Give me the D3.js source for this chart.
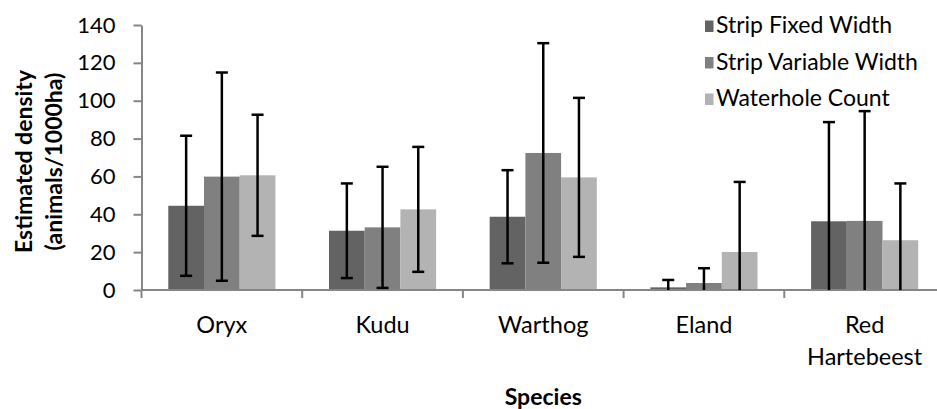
<!DOCTYPE html>
<html><head><meta charset="utf-8">
<script src="https://cdn.jsdelivr.net/npm/d3@7"></script>
<style>body{margin:0;background:#fff}svg{display:block}text{font-family:Lato,"Open Sans",sans-serif;fill:#000}</style>
</head><body>
<svg id="c" width="937" height="409"></svg>
<script>
const categories = ["Oryx","Kudu","Warthog","Eland","Red Hartebeest"];
const seriesNames = ["Strip Fixed Width","Strip Variable Width","Waterhole Count"];
const stripFixed = [44.5, 31.3, 38.7, 1.4, 36.3];
const stripFixedErr = [37, 25, 24.6, 3.9, 52.4];
const stripVariable = [59.9, 33.1, 72.4, 3.7, 36.5];
const stripVariableErr = [55, 32, 58, 7.8, 58];
const waterhole = [60.6, 42.6, 59.5, 20.1, 26.3];
const waterholeErr = [32, 33, 42, 37, 30];
const yTicks = [0,20,40,60,80,100,120,140];
const colors = ["#636363","#808080","#b3b3b3"];

const values = [stripFixed, stripVariable, waterhole];
const errs = [stripFixedErr, stripVariableErr, waterholeErr];

const svg = d3.select("#c");
const x0 = 141.5, x1 = 945, yTop = 25, yBot = 290;
const x = d3.scaleBand().domain(categories).range([x0, x1]).paddingInner(0).paddingOuter(0);
const y = d3.scaleLinear().domain([0,140]).range([yBot, yTop]);
const bw = x.bandwidth();
const barW = bw / 4.5;
const xs = d3.scaleBand().domain(seriesNames).range([(bw-3*barW)/2, (bw+3*barW)/2]).padding(0);

// bars
seriesNames.forEach((s, si) => {
  const g = svg.append("g");
  g.selectAll("rect").data(categories).join("rect")
    .attr("x", (c) => x(c) + xs(s))
    .attr("y", (c,i) => y(values[si][i]))
    .attr("width", xs.bandwidth())
    .attr("height", (c,i) => y(0) - y(values[si][i]))
    .attr("fill", colors[si]);
});

// axes
const ya = svg.append("g").attr("transform", `translate(${x0},0)`)
  .call(d3.axisLeft(y).tickValues(yTicks).tickSize(8).tickSizeOuter(0).tickPadding(18));
ya.select(".domain").attr("stroke","#868686").attr("stroke-width",2);
ya.selectAll(".tick line").attr("stroke","#868686").attr("stroke-width",2);
ya.selectAll(".tick text").style("font-family","Lato").style("font-size","22px").attr("fill","#000");

const xa = svg.append("g").attr("transform", `translate(0,${yBot})`)
  .call(d3.axisBottom(x).tickSize(0).tickFormat(""));
xa.select(".domain").remove();
svg.append("line").attr("x1", x0).attr("x2", 937).attr("y1", yBot).attr("y2", yBot)
  .attr("stroke","#868686").attr("stroke-width",2);
svg.append("g").selectAll("line").data(categories).join("line")
  .attr("x1", c => x(c)).attr("x2", c => x(c)).attr("y1", yBot).attr("y2", yBot+8)
  .attr("stroke","#868686").attr("stroke-width",2);

// error bars
seriesNames.forEach((s, si) => {
  const g = svg.append("g").attr("stroke","#000").attr("stroke-width",2.5);
  categories.forEach((c,i) => {
    const cx = x(c) + xs(s) + xs.bandwidth()/2;
    const v = values[si][i], e = errs[si][i];
    const hi = v + e, lo = Math.max(0, v - e);
    g.append("line").attr("x1",cx).attr("x2",cx).attr("y1",y(hi)).attr("y2",y(lo));
    g.append("line").attr("x1",cx-6).attr("x2",cx+6).attr("y1",y(hi)).attr("y2",y(hi));
    if (v - e > 0) g.append("line").attr("x1",cx-6).attr("x2",cx+6).attr("y1",y(lo)).attr("y2",y(lo));
  });
});

// category labels
const labG = svg.append("g").style("font-size","23.5px").attr("text-anchor","middle");
categories.forEach(c => {
  const words = c.split(" ");
  const t = labG.append("text").attr("x", x(c)+bw/2).attr("y", 333);
  words.forEach((w,k) => t.append("tspan").attr("x", x(c)+bw/2).attr("dy", k===0?0:32).text(w));
});

// axis titles
svg.append("text").attr("x", (x0+x1)/2).attr("y", 405).attr("text-anchor","middle")
  .style("font-size","23px").style("font-weight","bold").text("Species");
const yt = svg.append("text").attr("transform", `translate(0,${(yTop+yBot)/2+4}) rotate(-90)`)
  .attr("text-anchor","middle").style("font-size","23px").style("font-weight","bold");
yt.append("tspan").attr("x",0).attr("y",32).text("Estimated density");
yt.append("tspan").attr("x",0).attr("y",62).text("(animals/1000ha)");

// legend
const lg = svg.append("g");
seriesNames.forEach((s, si) => {
  const yy = 33 + si*36.5;
  lg.append("rect").attr("x",705).attr("y",yy-12.5).attr("width",8.5).attr("height",11.5).attr("fill",colors[si]);
  lg.append("text").attr("x",716).attr("y",yy).style("font-size","23px").text(s);
});
</script>
</body></html>
